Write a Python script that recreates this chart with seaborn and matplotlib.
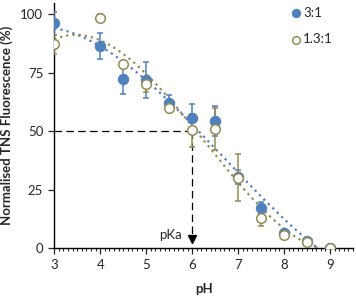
import numpy as np
import pandas as pd
import matplotlib
matplotlib.use("Agg")
import matplotlib.pyplot as plt
import seaborn as sns
from matplotlib.ticker import MultipleLocator

sns.set_style("ticks")
plt.rcParams['font.family'] = ['Lato', 'DejaVu Sans']

ph = [3, 4, 4.5, 5, 5.5, 6, 6.5, 7, 7.5, 8, 8.5, 9]
s31 = [96.1, 86.4, 72.5, 72.0, 62.2, 55.7, 54.4, 30.6, 17.4, 6.7, 3.0, 0.0]
e31 = [5.0, 5.5, 6.5, 7.7, 3.5, 6.0, 6.5, 3.0, 2.5, 1.0, 0.5, 0.0]
s13 = [87.2, 98.5, 78.6, 70.0, 59.8, 50.5, 50.8, 30.2, 13.0, 5.7, 2.8, 0.0]
e13 = [4.0, 1.5, 1.5, 3.0, 1.5, 7.0, 9.0, 10.0, 3.5, 1.0, 0.5, 0.0]
labels = ["3:1", "1.3:1"]

blue = "#4F81BD"
olive = "#948A54"

df = pd.DataFrame({
    "pH": ph * 2,
    "val": s31 + s13,
    "err": e31 + e13,
    "series": [labels[0]] * len(ph) + [labels[1]] * len(ph),
})

fig = plt.figure(figsize=(3.56, 2.99), dpi=100)
ax = fig.add_axes([0.1525, 0.1696, 0.8391, 0.8217])

# trendlines (3rd-order polynomial fits)
xs = np.linspace(3, 9, 300)
for lab, col in [(labels[0], blue), (labels[1], olive)]:
    d = df[df.series == lab]
    coef = np.polyfit(d.pH, d.val, 3)
    ys = np.polyval(coef, xs)
    sns.lineplot(x=xs, y=ys, ax=ax, color=col, linestyle=(0, (1, 1.8)),
                 linewidth=1.6, zorder=2)

# guide lines
ax.plot([3, 6], [50, 50], color="black", linestyle=(0, (6, 3.5)), linewidth=0.9, zorder=1)
ax.plot([6, 6], [50, 5], color="black", linestyle=(0, (6, 3.5)), linewidth=0.9, zorder=1)
ax.plot([6], [3.8], marker="v", color="black", markersize=6, zorder=5)
ax.text(5.53, 5.7, "pKa", ha="center", va="center", fontsize=9.5)

# error bars
ax.errorbar(ph, s31, yerr=e31, fmt="none", ecolor=blue, elinewidth=1.1,
            capsize=2.5, capthick=1.1, zorder=3)
ax.errorbar(ph, s13, yerr=e13, fmt="none", ecolor=olive, elinewidth=1.1,
            capsize=2.5, capthick=1.1, zorder=3)

# points
d1 = df[df.series == labels[0]]
d2 = df[df.series == labels[1]]
sns.scatterplot(data=d1, x="pH", y="val", ax=ax, color=blue, edgecolor=blue,
                s=55, linewidth=0.8, zorder=4, label=labels[0])
sns.scatterplot(data=d2, x="pH", y="val", ax=ax, color="white", edgecolor=olive,
                s=48, linewidth=1.1, zorder=4, label=labels[1])

ax.set_xlim(3, 9.5)
ax.set_ylim(0, 105)
ax.set_xticks([3, 4, 5, 6, 7, 8, 9])
ax.xaxis.set_minor_locator(MultipleLocator(0.1))
ax.set_yticks([0, 25, 50, 75, 100])
ax.tick_params(axis="both", labelsize=9.5, length=4, width=0.9, direction="out", pad=4)
ax.tick_params(axis="x", which="minor", length=2.5, width=0.8)
for sp in ["left", "bottom"]:
    ax.spines[sp].set_linewidth(1.0)
    ax.spines[sp].set_color("black")
sns.despine(ax=ax)

ax.set_xlabel("pH", fontsize=9.5, fontweight="bold", labelpad=8)
ax.set_ylabel("Normalised TNS Fluorescence (%)", fontsize=9.5, fontweight="bold", labelpad=5)

leg = ax.legend(loc="upper left", bbox_to_anchor=(0.775, 1.005), frameon=False,
                fontsize=9.5, handletextpad=0.1, handlelength=0.8,
                labelspacing=1.1, borderaxespad=0, markerscale=0.8)

fig.savefig("out.png", dpi=100)
